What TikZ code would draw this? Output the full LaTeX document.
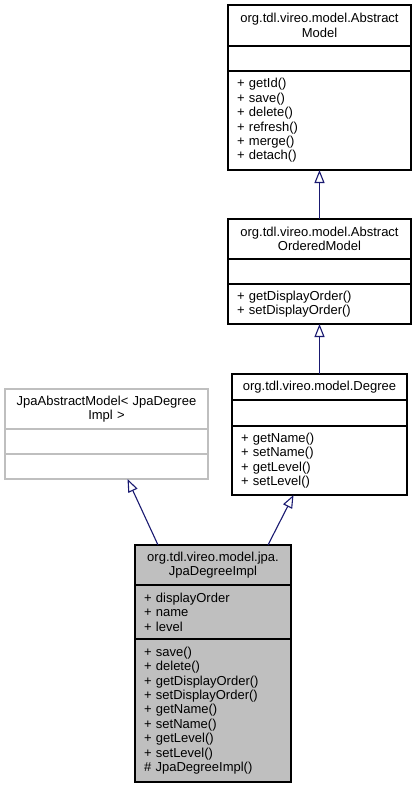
\documentclass[tikz,border=0pt]{standalone}
\usepackage{fontspec}
\setmainfont{Liberation Sans}
\usetikzlibrary{positioning,arrows.meta}
\definecolor{azulnoche}{RGB}{25,25,112}
\definecolor{gris}{RGB}{191,191,191}

\begin{document}
\begin{tikzpicture}[x=1pt, y=-1pt,
    every node/.style={font=\fontsize{13}{14.4}\selectfont, outer sep=0pt,
        inner xsep=9pt, inner ysep=0pt, line width=1.1pt},
    titulo/.style={draw, align=center, anchor=north west},
    campo/.style={draw, align=left},
    herencia/.style={draw=azulnoche, line width=1.1pt,
        -{Triangle[open, length=13pt, width=10pt, fill=white]}}]
    \useasboundingbox (0,0) rectangle (416,789);

    % Clase org.tdl.vireo.model.AbstractModel.
    \node[titulo, text width=165pt, minimum height=41pt] (absmodel) at (228,5)
        {org.tdl.vireo.model.Abstract\\Model};
    \node[campo, text width=165pt, minimum height=25pt, below=0pt of absmodel] (absmodel-attr) {};
    \node[campo, text width=165pt, minimum height=99pt, below=0pt of absmodel-attr] (absmodel-ops)
        {+ getId()\\+ save()\\+ delete()\\+ refresh()\\+ merge()\\+ detach()};

    % Clase org.tdl.vireo.model.AbstractOrderedModel.
    \node[titulo, text width=165pt, minimum height=40pt] (absorder) at (228,219)
        {org.tdl.vireo.model.Abstract\\OrderedModel};
    \node[campo, text width=165pt, minimum height=25pt, below=0pt of absorder] (absorder-attr) {};
    \node[campo, text width=165pt, minimum height=40pt, below=0pt of absorder-attr] (absorder-ops)
        {+ getDisplayOrder()\\+ setDisplayOrder()};

    % Clase org.tdl.vireo.model.Degree.
    \node[titulo, text width=157pt, minimum height=26pt] (degree) at (232,374)
        {org.tdl.vireo.model.Degree};
    \node[campo, text width=157pt, minimum height=26pt, below=0pt of degree] (degree-attr) {};
    \node[campo, text width=157pt, minimum height=69pt, below=0pt of degree-attr] (degree-ops)
        {+ getName()\\+ setName()\\+ getLevel()\\+ setLevel()};

    % Plantilla JpaAbstractModel (borde gris).
    \node[titulo, draw=gris, text width=185pt, minimum height=40pt] (jpa) at (5,389)
        {JpaAbstractModel< JpaDegree\\Impl >};
    \node[campo, draw=gris, text width=185pt, minimum height=25pt, below=0pt of jpa] (jpa-attr) {};
    \node[campo, draw=gris, text width=185pt, minimum height=25pt, below=0pt of jpa-attr] (jpa-ops) {};

    % Clase org.tdl.vireo.model.jpa.JpaDegreeImpl (sombreada).
    \node[titulo, fill=gris, text width=138pt, minimum height=40pt] (impl) at (135,545)
        {org.tdl.vireo.model.jpa.\\JpaDegreeImpl};
    \node[campo, fill=gris, text width=138pt, minimum height=54pt, below=0pt of impl] (impl-attr)
        {+ displayOrder\\+ name\\+ level};
    \node[campo, fill=gris, text width=138pt, minimum height=143pt, below=0pt of impl-attr] (impl-ops)
        {+ save()\\+ delete()\\+ getDisplayOrder()\\+ setDisplayOrder()\\+ getName()\\+ setName()\\+ getLevel()\\+ setLevel()\\\# JpaDegreeImpl()};

    % Flechas de herencia.
    \draw[herencia] (absorder.north) -- (absmodel-ops.south);
    \draw[herencia] (degree.north) -- (absorder-ops.south);
    \draw[herencia] ([xshift=-55pt]impl.north) -- ([xshift=21pt]jpa-ops.south);
    \draw[herencia] ([xshift=55pt]impl.north) -- ([xshift=-26pt]degree-ops.south);
\end{tikzpicture}
\end{document}
